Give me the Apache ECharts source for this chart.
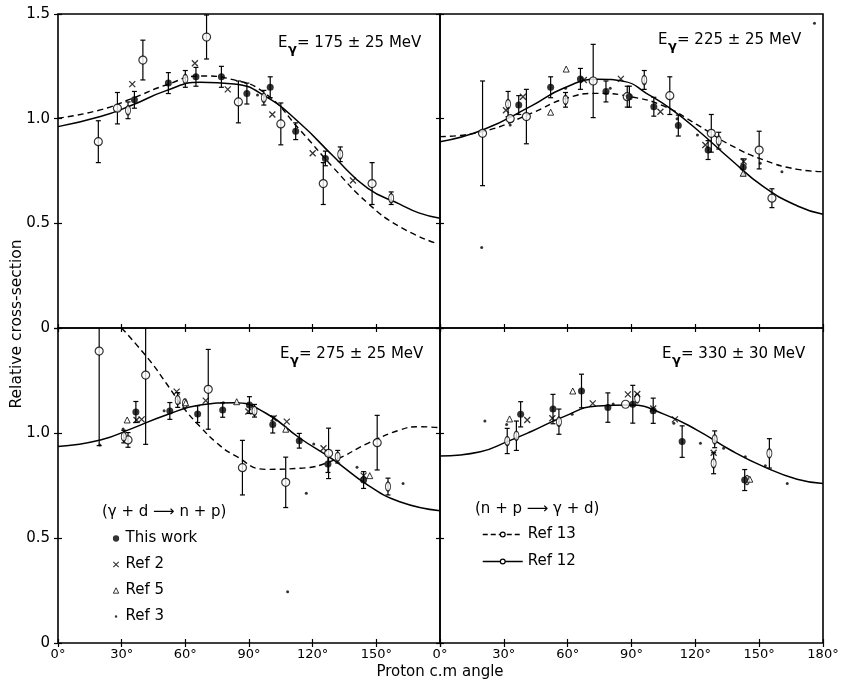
<!DOCTYPE html>
<html><head><meta charset="utf-8">
<script src="https://cdn.jsdelivr.net/npm/echarts@6/dist/echarts.min.js"></script>
<style>html,body{margin:0;padding:0;background:#fff}#c{width:853px;height:683px}</style>
</head><body><div id="c"></div>
<script>
// ---------- axis ticks ----------
const angleTicks = [0, 30, 60, 90, 120, 150, 180];
const yTicks = [0, 0.5, 1.0, 1.5];
const energyLabels = ['= 175 ± 25 MeV', '= 225 ± 25 MeV', '= 275 ± 25 MeV', '= 330 ± 30 MeV'];

// ---------- Eγ = 175 MeV ----------  [angle, value, error]
const thisWork175 = [[36,1.09,0.04],[52,1.17,0.05],[65,1.2,0.045],[77,1.2,0.05],[89,1.12,0.05],[100,1.15,0.05],[112,0.94,0.04],[126,0.81,0.035]];
const ref13_175 = [[19,0.89,0.1],[28,1.05,0.075],[40,1.28,0.095],[70,1.39,0.105],[85,1.08,0.1],[105,0.975,0.1],[125,0.69,0.1],[148,0.69,0.1]];
const ref12_175 = [[33,1.04,0.04],[60,1.19,0.04],[97,1.1,0.035],[133,0.83,0.035],[157,0.62,0.03]];
const ref2_175 = [[35,1.165],[64.5,1.265],[80,1.14],[101,1.02],[120,0.835],[139,0.705]];
const ref5_175 = [];
const ref3_175 = [[94,1.113]];
const solid175 = [[0,0.962],[20,1.01],[35,1.065],[51,1.134],[67,1.174],[83,1.166],[98,1.105],[114,0.978],[130,0.818],[146,0.667],[161,0.592],[170,0.55],[180,0.524]];
const dashed175 = [[0,1.002],[20,1.042],[35,1.097],[51,1.161],[67,1.204],[83,1.185],[98,1.118],[114,0.946],[130,0.763],[146,0.596],[161,0.484],[178,0.405]];

// ---------- Eγ = 225 MeV ----------
const thisWork225 = [[37,1.065,0.045],[52,1.15,0.05],[66,1.19,0.05],[78,1.13,0.05],[89,1.105,0.05],[100.5,1.057,0.045],[112,0.967,0.05],[126,0.85,0.045],[142.5,0.768,0.04]];
const ref13_225 = [[20,0.93,0.25],[40.6,1.01,0.13],[72,1.18,0.175],[88,1.105,0.05],[108,1.11,0.09],[127.5,0.93,0.09],[150,0.85,0.09],[156,0.62,0.045],[33,1.0,0]];
const ref12_225 = [[32,1.07,0.06],[59,1.09,0.035],[96,1.185,0.045],[131,0.895,0.04]];
const ref2_225 = [[31,1.04],[39,1.105],[67.6,1.185],[85,1.19],[103.6,1.033],[124.7,0.874],[142.7,0.795]];
const ref5_225 = [[59.3,1.237],[52,1.031],[142.5,0.739]];
const ref3_225 = [[19.6,0.384],[33,0.97],[80,1.145],[121,0.922],[150.5,0.787],[160.7,0.747],[111.4,1.0],[59,1.145],[176,1.456]];
const solid225 = [[0,0.89],[20,0.946],[43,1.061],[58,1.145],[74,1.188],[87,1.177],[97,1.121],[108,1.05],[121,0.946],[136.5,0.806],[152,0.675],[168,0.583],[180,0.543]];
const dashed225 = [[0,0.914],[20,0.938],[43,1.026],[58,1.093],[74,1.121],[89.5,1.105],[105,1.061],[121,0.97],[136.5,0.874],[152,0.803],[168,0.758],[180,0.747]];

// ---------- Eγ = 275 MeV ----------
const thisWork275 = [[36.7,1.1,0.05],[52.7,1.105,0.04],[65.8,1.09,0.04],[77.6,1.11,0.035],[90.2,1.133,0.04],[101.2,1.04,0.04],[113.7,0.963,0.035],[127.2,0.852,0.04],[144,0.776,0.04]];
const ref13_275 = [[19.4,1.39,0.45],[41.3,1.276,0.33],[33,0.967,0.035],[70.8,1.208,0.19],[86.9,0.835,0.13],[107.3,0.765,0.12],[127.5,0.903,0.12],[150.4,0.954,0.13]];
const ref12_275 = [[31,0.983,0.03],[56.4,1.157,0.035],[92.6,1.106,0.03],[131.8,0.887,0.03],[155.5,0.745,0.04],[59.8,1.141,0]];
const ref2_275 = [[39.4,1.065],[69.6,1.154],[89.7,1.102],[101.6,1.07],[107.8,1.054],[125.1,0.927],[144,0.797],[55.9,1.197],[37,1.062]];
const ref5_275 = [[32.6,1.062],[84.2,1.149],[107.3,1.018],[146.9,0.797],[60.2,1.144]];
const ref3_275 = [[19.7,0.943],[30.7,1.019],[50,1.106],[117,0.713],[120.5,0.948],[140.9,0.837],[162.6,0.76],[108.2,0.244],[77.9,1.144]];
const solid275 = [[0,0.936],[20,0.967],[35,1.022],[51,1.086],[67,1.133],[83,1.144],[98,1.094],[114,0.975],[130,0.871],[146,0.752],[161,0.673],[180,0.63]];
const dashed275 = [[30,1.5],[43,1.348],[51,1.237],[59,1.122],[67,1.03],[75,0.951],[83,0.895],[98,0.827],[114,0.832],[130,0.871],[146,0.951],[161,1.014],[170,1.03],[180,1.025]];

// ---------- Eγ = 330 MeV ----------
const thisWork330 = [[37.9,1.089,0.06],[53.1,1.114,0.07],[66.5,1.2,0.08],[78.9,1.121,0.07],[90.6,1.137,0.09],[100.2,1.106,0.06],[113.8,0.959,0.075],[143.2,0.776,0.05]];
const ref13_330 = [[87.2,1.137,0]];
const ref12_330 = [[31.6,0.962,0.06],[35.9,0.987,0.07],[55.9,1.054,0.06],[92.7,1.165,0],[129.1,0.97,0.04],[128.6,0.856,0.05],[154.8,0.903,0.07],[144.3,0.776,0]];
const ref2_330 = [[41,1.062],[52.8,1.07],[71.8,1.141],[88.3,1.184],[100.2,1.117],[110.4,1.065],[128.6,0.906],[92.7,1.186]];
const ref5_330 = [[32.7,1.067],[62.4,1.2],[145.6,0.78]];
const ref3_330 = [[21.1,1.057],[31.3,1.041],[62.1,1.089],[81.4,1.138],[122.4,0.951],[133.3,0.927],[143.5,0.887],[152.9,0.844],[163.2,0.76],[109.9,1.046]];
const solid330 = [[0,0.89],[19,0.911],[31.6,0.959],[42.6,1.006],[58.2,1.078],[73.9,1.129],[89.5,1.133],[105.2,1.09],[120.8,1.014],[136.5,0.919],[152.1,0.84],[167.8,0.78],[180,0.76]];
const dashed330 = [];

const panels = [
  {tw: thisWork175, r13: ref13_175, r12: ref12_175, r2: ref2_175, r5: ref5_175, r3: ref3_175, solid: solid175, dashed: dashed175},
  {tw: thisWork225, r13: ref13_225, r12: ref12_225, r2: ref2_225, r5: ref5_225, r3: ref3_225, solid: solid225, dashed: dashed225},
  {tw: thisWork275, r13: ref13_275, r12: ref12_275, r2: ref2_275, r5: ref5_275, r3: ref3_275, solid: solid275, dashed: dashed275},
  {tw: thisWork330, r13: ref13_330, r12: ref12_330, r2: ref2_330, r5: ref5_330, r3: ref3_330, solid: solid330, dashed: dashed330}
];

// ---------- layout ----------
const FONT = "'DejaVu Sans', 'Liberation Sans', sans-serif";
const gridBoxes = [
  {left: 58, top: 14, width: 382, height: 314},
  {left: 440, top: 14, width: 383, height: 314},
  {left: 58, top: 328, width: 382, height: 315},
  {left: 440, top: 328, width: 383, height: 315}
];
const labelPos = [[278, 43], [658, 40], [280, 354], [662, 354]];
const XPATH = 'path://M0,0L10,10M10,0L0,10';
const SMALLDOT = 'path://M0,0L0.01,0M10,10L10.01,10M3.6,5a1.4,1.4 0 1,0 2.8,0a1.4,1.4 0 1,0 -2.8,0Z';
const SMALLX = 'path://M0,0L0.01,0M10,10L10.01,10M2,2L8,8M8,2L2,8';
const SMALLTRI = 'path://M0,0L0.01,0M10,10L10.01,10M5,2L8,8L2,8Z';
const OPEN = {color: '#fff', borderColor: '#000', borderWidth: 1.2};

const tick = {show: true, inside: true, length: 4, lineStyle: {color: '#000', width: 1.2}};
const xAxes = [], yAxes = [], grids = [];
gridBoxes.forEach((g, i) => {
  grids.push(Object.assign({show: true, borderColor: '#000', borderWidth: 1.6, containLabel: false}, g));
  const bottomLabels = i >= 2;
  xAxes.push({gridIndex: i, type: 'value', min: angleTicks[0], max: angleTicks[angleTicks.length - 1], interval: 30, position: 'bottom',
    axisLine: {show: false}, axisTick: tick, splitLine: {show: false},
    axisLabel: {show: bottomLabels, showMaxLabel: i === 3, margin: 5, color: '#000', fontSize: 13, fontFamily: FONT, formatter: v => v + '°'}});
  yAxes.push({gridIndex: i, type: 'value', min: yTicks[0], max: yTicks[yTicks.length - 1], interval: 0.5, position: 'left',
    axisLine: {show: false}, axisTick: tick, splitLine: {show: false},
    axisLabel: {show: i === 0 || i === 2, showMaxLabel: i === 0, margin: 8, color: '#000', fontSize: 15, fontFamily: FONT,
      formatter: v => v === 0 ? '0' : v.toFixed(1)}});
});
gridBoxes.forEach((g, i) => {
  xAxes.push({gridIndex: i, type: 'value', min: 0, max: 180, interval: 30, position: 'top',
    axisLine: {show: false}, axisTick: tick, splitLine: {show: false}, axisLabel: {show: false}});
  yAxes.push({gridIndex: i, type: 'value', min: 0, max: 1.5, interval: 0.5, position: 'right',
    axisLine: {show: false}, axisTick: tick, splitLine: {show: false}, axisLabel: {show: false}});
});

function renderErr(params, api) {
  const x = api.value(0), lo = api.value(1), hi = api.value(2);
  const a = api.coord([x, hi]), b = api.coord([x, lo]);
  const c = 2.5;
  const st = {stroke: '#000', lineWidth: 1.2};
  return {type: 'group', children: [
    {type: 'line', shape: {x1: a[0], y1: a[1], x2: b[0], y2: b[1]}, style: st},
    {type: 'line', shape: {x1: a[0] - c, y1: a[1], x2: a[0] + c, y2: a[1]}, style: st},
    {type: 'line', shape: {x1: b[0] - c, y1: b[1], x2: b[0] + c, y2: b[1]}, style: st}
  ]};
}

const series = [];
const pts = arr => arr.map(d => [d[0], d[1]]);
panels.forEach((p, i) => {
  const ax = {xAxisIndex: i, yAxisIndex: i};
  series.push(Object.assign({type: 'line', name: 'Ref 12', data: p.solid, smooth: 0.5, symbol: 'circle', symbolSize: [5, 9], showSymbol: false,
    itemStyle: OPEN, lineStyle: {color: '#000', width: 1.5}, silent: true, z: 2}, ax));
  if (p.dashed.length) series.push(Object.assign({type: 'line', name: 'Ref 13', data: p.dashed, smooth: 0.5, symbol: 'circle', symbolSize: 6, showSymbol: false,
    itemStyle: OPEN, lineStyle: {color: '#000', width: 1.4, type: [6, 4]}, silent: true, z: 2}, ax));
  const errs = [].concat(p.tw, p.r13, p.r12).filter(d => d[2] > 0).map(d => [d[0], d[1] - d[2], d[1] + d[2]]);
  series.push(Object.assign({type: 'custom', name: 'err', data: errs, renderItem: renderErr, clip: true, silent: true,
    encode: {x: 0, y: [1, 2]}, z: 3}, ax));
  series.push(Object.assign({type: 'scatter', name: 'Ref 13', data: pts(p.r13), symbol: 'circle', symbolSize: 8, itemStyle: OPEN, z: 5}, ax));
  series.push(Object.assign({type: 'scatter', name: 'Ref 12', data: pts(p.r12), symbol: 'circle', symbolSize: [5, 9], itemStyle: OPEN, z: 5}, ax));
  series.push(Object.assign({type: 'scatter', name: 'This work', data: pts(p.tw), symbol: 'circle', symbolSize: 7, itemStyle: {color: '#000'}, z: 6}, ax));
  series.push(Object.assign({type: 'scatter', name: 'Ref 2', data: pts(p.r2), symbol: XPATH, symbolSize: 6, itemStyle: {color: '#000', borderColor: '#000', borderWidth: 1.3}, z: 6}, ax));
  series.push(Object.assign({type: 'scatter', name: 'Ref 5', data: pts(p.r5), symbol: 'triangle', symbolSize: 6, itemStyle: {color: '#fff', borderColor: '#000', borderWidth: 1}, z: 6}, ax));
  series.push(Object.assign({type: 'scatter', name: 'Ref 3', data: pts(p.r3), symbol: 'circle', symbolSize: 3, itemStyle: {color: '#000'}, z: 6}, ax));
});

const graphics = [];
labelPos.forEach((pos, i) => {
  graphics.push({type: 'group', x: pos[0], y: pos[1], children: [
    {type: 'text', x: 0, y: 0, style: {text: 'E', fontSize: 15, fontFamily: FONT, fill: '#000', verticalAlign: 'middle'}},
    {type: 'text', x: 10, y: 7, style: {text: 'γ', fontSize: 13, fontWeight: 'bold', fontFamily: FONT, fill: '#000', verticalAlign: 'middle'}},
    {type: 'text', x: 19, y: 0, style: {text: energyLabels[i], fontSize: 15, fontFamily: FONT, fill: '#000', verticalAlign: 'middle'}}
  ]});
});
graphics.push({type: 'text', x: 102, y: 512, style: {text: '(γ + d ⟶ n + p)', fontSize: 15, fontFamily: FONT, fill: '#000', verticalAlign: 'middle'}});
graphics.push({type: 'text', x: 475, y: 509, style: {text: '(n + p ⟶ γ + d)', fontSize: 15, fontFamily: FONT, fill: '#000', verticalAlign: 'middle'}});
graphics.push({type: 'text', x: 17, y: 324, rotation: Math.PI / 2, style: {text: 'Relative cross-section', fontSize: 15.5, fontFamily: FONT, fill: '#000', align: 'center', verticalAlign: 'middle'}});
graphics.push({type: 'text', x: 440, y: 672, style: {text: 'Proton c.m angle', fontSize: 15, fontFamily: FONT, fill: '#000', align: 'center', verticalAlign: 'middle'}});

const legendText = {fontSize: 15, color: '#000', fontFamily: FONT};
const option = {
  animation: false,
  backgroundColor: '#fff',
  grid: grids,
  xAxis: xAxes,
  yAxis: yAxes,
  series: series,
  graphic: graphics,
  legend: [
    {orient: 'vertical', left: 106, top: 526, itemWidth: 9, itemHeight: 9, itemGap: 11, selectedMode: false, textStyle: legendText,
      data: [
        {name: 'This work', icon: 'path://M0,0L0.01,0M10,10L10.01,10M1.5,5a3.5,3.5 0 1,0 7,0a3.5,3.5 0 1,0 -7,0Z', itemStyle: {color: '#000', borderWidth: 0}},
        {name: 'Ref 2', icon: SMALLX, itemStyle: {color: '#000', borderColor: '#000', borderWidth: 1.1}},
        {name: 'Ref 5', icon: SMALLTRI, itemStyle: {color: '#fff', borderColor: '#000', borderWidth: 1}},
        {name: 'Ref 3', icon: SMALLDOT, itemStyle: {color: '#000', borderWidth: 0}}
      ]},
    {orient: 'vertical', left: 477, top: 522, itemWidth: 40, itemHeight: 6, itemGap: 12, selectedMode: false, textStyle: legendText,
      data: [
        {name: 'Ref 13', itemStyle: {color: '#fff', borderColor: '#000', borderWidth: 1.2}, lineStyle: {color: '#000', width: 1.4, type: [5, 3]}},
        {name: 'Ref 12', itemStyle: {color: '#fff', borderColor: '#000', borderWidth: 1.2}, lineStyle: {color: '#000', width: 1.5}}
      ]}
  ]
};
const chart = echarts.init(document.getElementById('c'), null, {renderer: 'canvas'});
chart.setOption(option);
</script></body></html>
